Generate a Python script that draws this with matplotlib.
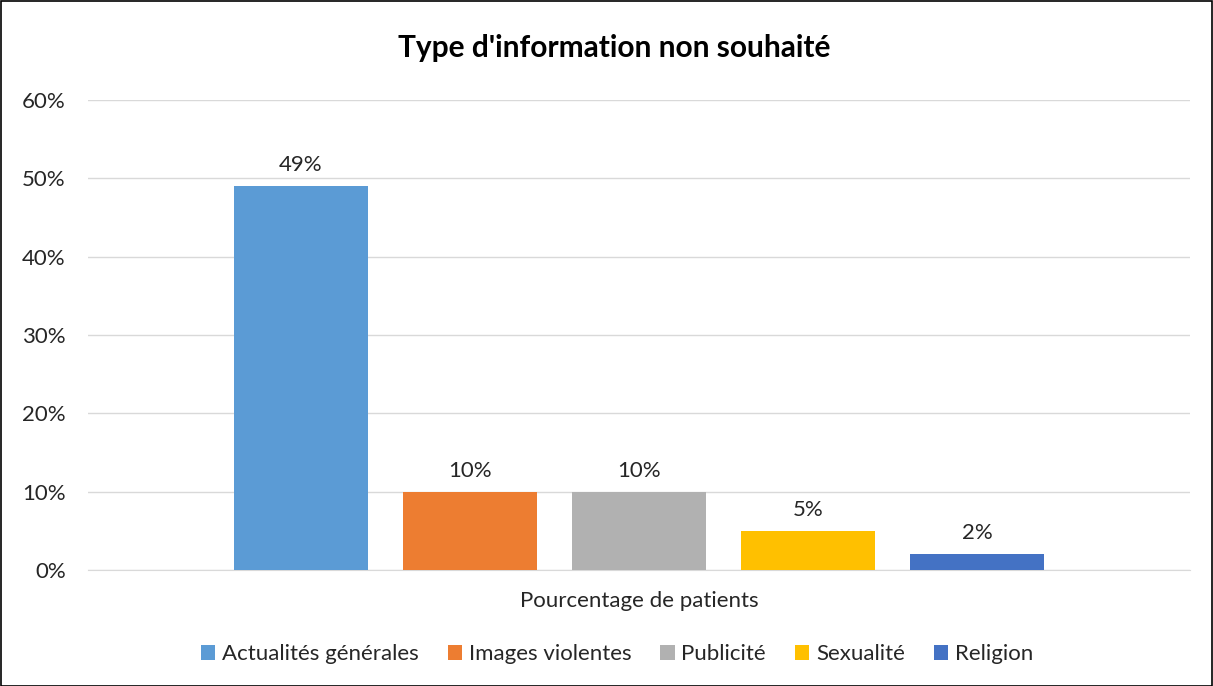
import matplotlib.pyplot as plt
from matplotlib.patches import Rectangle

plt.rcParams['font.family'] = ['Lato', 'DejaVu Sans']

# Données
categories = ['Actualités générales', 'Images violentes', 'Publicité', 'Sexualité', 'Religion']
values = [49, 10, 10, 5, 2]
colors = ['#5B9BD5', '#ED7D31', '#B1B1B1', '#FFC000', '#4472C4']
yticks = [0, 10, 20, 30, 40, 50, 60]

W, H = 1213, 686
txt = '#262626'
fig = plt.figure(figsize=(W / 100, H / 100), dpi=100)
ax = fig.add_axes([88 / W, 1 - 570 / H, (1190 - 88) / W, (570 - 100) / H])

step = 169 / 1102
width = 134 / 1102
xs = [0.5 + (i - 2) * step for i in range(len(values))]
bars = ax.bar(xs, values, width=width, color=colors, label=categories, zorder=3)
for x, v in zip(xs, values):
    ax.text(x, v + 1.4, f'{v}%', ha='center', va='bottom', fontsize=16, color=txt)

ax.set_xlim(0, 1)
ax.set_ylim(0, 60)
ax.set_yticks(yticks)
ax.set_yticklabels([f'{t}%' for t in yticks], fontsize=16, color=txt)
ax.set_xticks([])
ax.tick_params(axis='y', length=0, pad=16)
ax.grid(axis='y', color='#D9D9D9', linewidth=1, zorder=0)
for s in ['top', 'right', 'left']:
    ax.spines[s].set_visible(False)
ax.spines['bottom'].set_color('#D9D9D9')

fig.text(614 / W, 1 - 48 / H, "Type d'information non souhaité", ha='center', va='center',
         fontsize=21.5, fontweight='bold', color='black')
fig.text(639 / W, 1 - 601 / H, 'Pourcentage de patients', ha='center', va='center',
         fontsize=16, color=txt)

leg = fig.legend(handles=bars, labels=categories, loc='center', bbox_to_anchor=(617 / W, 1 - 654 / H),
                 ncol=5, frameon=False, fontsize=16, handlelength=0.65, handleheight=0.65,
                 handletextpad=0.3, columnspacing=1.3)
for t in leg.get_texts():
    t.set_color(txt)

fig.patches.append(Rectangle((0.5 / W, 0.5 / H), 1 - 1.5 / W, 1 - 1.5 / H, transform=fig.transFigure,
                             fill=False, edgecolor='black', linewidth=1.2))

fig.savefig('out.png', dpi=100)
